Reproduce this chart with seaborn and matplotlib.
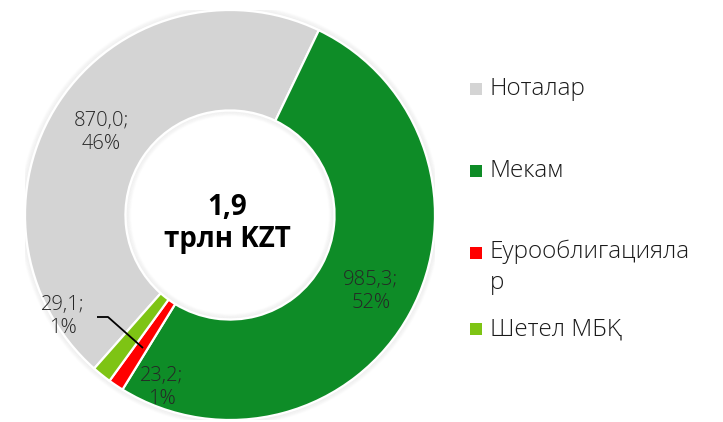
import matplotlib
matplotlib.use("Agg")
import matplotlib.pyplot as plt
from matplotlib.patches import Circle, Rectangle
import seaborn as sns

sns.set_theme(style="white")
plt.rcParams["font.family"] = ["Open Sans", "DejaVu Sans"]

# Portfolio structure, bln KZT
categories = ["Ноталар", "Мекам", "Еурооблигациялар", "Шетел МБҚ"]
legend_labels = ["Ноталар", "Мекам", "Еурооблигацияла\nр", "Шетел МБҚ"]
values = [870.0, 985.3, 23.2, 29.1]
shares = [46, 52, 1, 1]
colors = ["#D4D4D4", "#0E8C27", "#FF0000", "#7EC414"]
total_label = "1,9\nтрлн KZT"

W, H = 723, 422
fig = plt.figure(figsize=(W / 100, H / 100), dpi=100)
fig.patch.set_facecolor("white")

cx, cy, R = 230, 215, 205
ax = fig.add_axes([(cx - R) / W, (H - cy - R) / H, 2 * R / W, 2 * R / H])

width = 0.49
wedges, _ = ax.pie(
    values,
    colors=colors,
    startangle=228.5,
    counterclock=False,
    radius=1,
    wedgeprops=dict(width=width, edgecolor="white", linewidth=1.6),
)
for w in wedges:
    w.set_zorder(2)

# soft glow around the ring
for i in range(6):
    d = 0.004 * (i + 1)
    a = 0.025 - 0.0035 * i
    ax.add_patch(Circle((0, 0), 1 + d, fill=False, lw=1.6, ec="black", alpha=a, zorder=1))
    ax.add_patch(Circle((0, 0), 1 - width - d, fill=False, lw=1.6, ec="black", alpha=a, zorder=1))

ax.set_xlim(-1, 1)
ax.set_ylim(-1, 1)
ax.set_aspect("equal")
ax.axis("off")

label_kw = dict(ha="center", va="center", fontsize=14.5, color="#262626",
                fontweight="light", linespacing=1.2, zorder=5)

def fmt(v, s):
    return f"{v:.1f}".replace(".", ",") + f";\n{s}%"

def to_data(px, py):
    return ((px - cx) / R, (cy - py) / R)

label_px = [(101, 133), (371, 292), (162, 388), (63, 317)]
for v, s, (px, py) in zip(values, shares, label_px):
    x, y = to_data(px, py)
    ax.text(x, y, fmt(v, s), **label_kw)

# leader line for the Eurobond label
p0 = to_data(97, 317)
p1 = to_data(108, 317)
p2 = to_data(143, 348)
ax.plot([p0[0], p1[0], p2[0]], [p0[1], p1[1], p2[1]], color="black", lw=1.3,
        zorder=6, solid_capstyle="butt")

ax.text(-0.015, -0.04, total_label, ha="center", va="center", fontsize=20,
        fontweight="bold", color="black", linespacing=1.15, zorder=6)

# legend
leg_rows = [89, 171, 253, 329]
for lab, col, py in zip(legend_labels, colors, leg_rows):
    fig.patches.append(Rectangle((470 / W, (H - py - 6) / H), 12 / W, 12 / H,
                                 transform=fig.transFigure, color=col, lw=0))
    fig.text(490 / W, (H - py + (13 if "\n" in lab else 0)) / H, lab, ha="left",
             va="top" if "\n" in lab else "center",
             fontsize=17.5, fontweight="light", color="#1a1a1a", linespacing=1.35)

fig.savefig("out.png", dpi=100, facecolor="white")
